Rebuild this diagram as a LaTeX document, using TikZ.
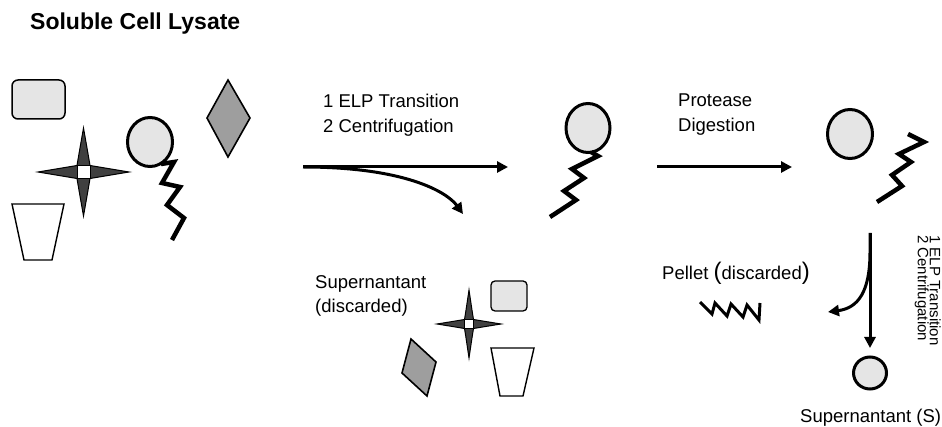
\documentclass[tikz,border=0pt]{standalone}
\usepackage{fontspec}
\setmainfont{Liberation Sans}
\usetikzlibrary{arrows.meta}
\definecolor{lightdots}{gray}{0.90}
\definecolor{middots}{gray}{0.62}
\definecolor{darkdots}{gray}{0.25}

% four-pointed star with a white square core: centre x, centre y, half width, half height, core half size
\newcommand{\crossstar}[5]{%
  \filldraw[fill=darkdots,draw=black,line width=1pt,line join=miter]
    ({#1-#3},#2) .. controls ({#1-2.5*#5},{#2-0.75*#5}) .. ({#1-#5},{#2-#5})
    .. controls ({#1-0.75*#5},{#2-2.5*#5}) .. (#1,{#2-#4})
    .. controls ({#1+0.75*#5},{#2-2.5*#5}) .. ({#1+#5},{#2-#5})
    .. controls ({#1+2.5*#5},{#2-0.75*#5}) .. ({#1+#3},#2)
    .. controls ({#1+2.5*#5},{#2+0.75*#5}) .. ({#1+#5},{#2+#5})
    .. controls ({#1+0.75*#5},{#2+2.5*#5}) .. (#1,{#2+#4})
    .. controls ({#1-0.75*#5},{#2+2.5*#5}) .. ({#1-#5},{#2+#5})
    .. controls ({#1-2.5*#5},{#2+0.75*#5}) .. cycle;
  \filldraw[fill=white,draw=black,line width=0.8pt]
    ({#1-#5},{#2-#5}) rectangle ({#1+#5},{#2+#5});
}

\begin{document}
\begin{tikzpicture}[x=1pt,y=-1pt,
  flow/.style={line width=3pt,-{Triangle[length=11pt,width=11pt]}},
  bead/.style={draw=black,line width=3pt,fill=lightdots},
  elpchain/.style={line width=4.5pt,line join=miter,miter limit=8},
  tilebox/.style={draw=black,line width=1.5pt,fill=lightdots,rounded corners=6pt},
  cup/.style={draw=black,line width=1.4pt,fill=white,line join=miter},
  rhomb/.style={draw=black,line width=1.6pt,fill=middots,line join=miter},
  txt/.style={inner sep=0pt,align=left,font=\fontsize{18.5}{25}\selectfont},
]
\useasboundingbox (0,0) rectangle (942,427);

% title
\node[anchor=base west,inner sep=0pt,font=\bfseries\fontsize{23}{28}\selectfont]
  (title) at (30,30) {Soluble Cell Lysate};

% ---------- soluble lysate mixture ----------
\draw[tilebox] (12,80) rectangle (65,119);
\crossstar{83.5}{172}{45.5}{44}{6.5}
\draw[cup] (12,204) -- (64,204) -- (52,260) -- (24,260) -- cycle;
\draw[rhomb] (228,80) -- (250,118) -- (228,157) -- (207,118) -- cycle;
\draw[bead] (150,142) ellipse [x radius=22.5, y radius=24.5];
\draw[elpchain] (161,164) -- (174,162) -- (162,183) -- (180,187) -- (167,205)
  -- (184,218) -- (172,240);

% ---------- step 1: ELP transition and centrifugation ----------
\node[txt,anchor=north west] (step1) at (323,93.8) {1 ELP Transition\\2 Centrifugation};
\coordinate (s1) at (303,167);
\coordinate (s1end) at (508,167);
\coordinate (s1side) at (463,214);
\draw[flow] (s1) -- (s1end);
\draw[flow] (s1) .. controls (405,167) and (447,192) .. (s1side);

% purified fusion protein
\draw[bead] (588,128) ellipse [x radius=22, y radius=24.5];
\draw[elpchain] (591,152) -- (598,156) -- (572,169) -- (584,178) -- (564,191)
  -- (576,200) -- (550,217);

% discarded supernatant contents
\node[txt,anchor=north west,font=\fontsize{18.5}{24}\selectfont] (sup1) at (315,275.5)
  {Supernantant\\(discarded)};
\crossstar{469}{324}{32}{34}{4.5}
\draw[tilebox,line width=1.3pt,rounded corners=4pt] (491,281) rectangle (527,311);
\draw[cup] (491,348) -- (534,348) -- (523,396) -- (500,396) -- cycle;
\draw[rhomb] (411,339) -- (436,362) -- (427,396) -- (402,373) -- cycle;

% ---------- step 2: protease digestion ----------
\node[txt,anchor=north west] (step2) at (678,93.8) {Protease\\Digestion};
\coordinate (s2) at (657,167);
\coordinate (s2end) at (792,167);
\draw[flow] (s2) -- (s2end);

% cleaved products
\draw[bead] (850,134) ellipse [x radius=22.5, y radius=24.5];
\draw[elpchain] (908,134) -- (924,142) -- (899,154) -- (911,162) -- (892,175)
  -- (902,186) -- (877,202);

% ---------- step 3: second ELP transition and centrifugation ----------
\node[inner sep=0pt,align=left,rotate=-90,anchor=north west,
  font=\fontsize{15}{10.8}\selectfont] (step3) at (941,235)
  {1 ELP Transition\\2 Centrifugation};
\coordinate (s3) at (870,233);
\coordinate (s3end) at (870,348);
\coordinate (s3side) at (828,312);
\draw[flow] (s3) -- (s3end);
\draw[flow] (s3) -- (870,252) .. controls (870,292) and (858,308) .. (s3side);

% discarded pellet (free ELP)
\node[txt,anchor=base west] (pellet) at (662,280)
  {Pellet {\fontsize{24}{24}\selectfont(}discarded{\fontsize{24}{24}\selectfont)}};
\draw[line width=3pt,line join=miter,miter limit=10] (700,302) -- (712,314) -- (715,303)
  -- (727,316) -- (731,304) -- (743,317) -- (747,305) -- (759,320) -- (760,303);

% recovered target protein
\draw[bead] (870,373) ellipse [x radius=16.5, y radius=16];
\node[txt,anchor=base west] (sup2) at (800,422) {Supernantant (S)};
\end{tikzpicture}
\end{document}
